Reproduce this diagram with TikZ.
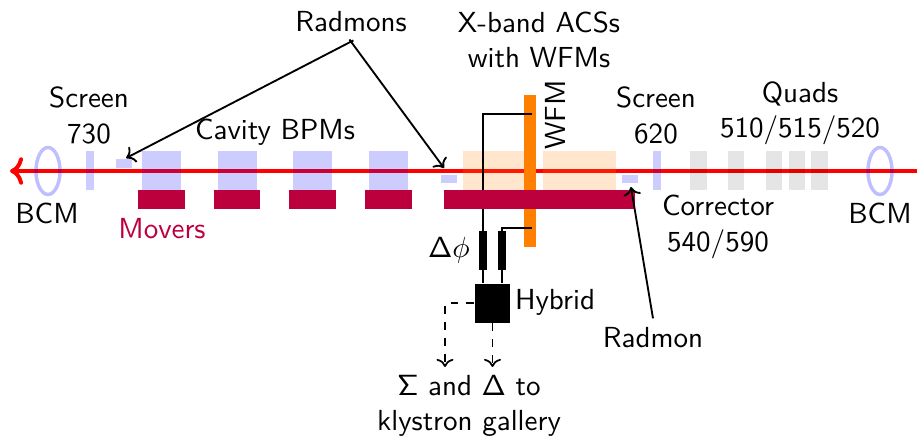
\documentclass[tikz,border=0pt]{standalone}
\usepackage{xcolor}
\usepackage{tikz}
\usetikzlibrary{arrows.meta,calc,positioning,shapes.geometric}
\definecolor{moverred}{HTML}{BB003D}
\newcommand{\px}{.0132cm}
\tikzset{
  txt/.style={font=\fontsize{10.9}{13.3}\selectfont\sffamily,align=center},
  part/.style={rectangle,draw=none,inner sep=0pt,outer sep=0pt,minimum width=#1*\px,minimum height=39*\px},
  bluepart/.style={part=#1,fill=blue,opacity=.2},
  graypart/.style={part=#1,fill=black,opacity=.1},
  acspart/.style={part=#1,fill=orange,opacity=.2},
  radmonbox/.style={part=16.3,minimum height=8.5*\px,fill=blue,opacity=.2},
  moverbox/.style={part=#1,minimum height=19.6*\px,fill=moverred},
  bcmring/.style={ellipse,draw=blue,opacity=.25,line width=1.3pt,inner sep=0pt,minimum width=24*\px,minimum height=47*\px},
  phasebox/.style={part=8.6,fill=black},
  link/.style={black,line width=.7pt},
}
\begin{document}
\begin{tikzpicture}[x=\px,y=-\px]
\useasboundingbox (0,0) rectangle (917,436);
\coordinate (beamin) at (917,171);
\coordinate (beamout) at (10,171);
\draw[->,red,line width=1.5pt] (beamin)--(beamout);
% beamline parts
\node[bcmring] (bcmL) at (48,171){};
\node[bcmring] (bcmR) at (880,171){};
\node[bluepart=8.4] (scrL) at (89.8,171){};
\node[bluepart=8.4] (scrR) at (656.8,171){};
\foreach \x/\n in {161.7/1,237.3/2,312.8/3,388.5/4}{\node[bluepart=38.8] (bpm\n) at (\x,171){};}
\foreach \x/\n in {698.3/1,736.2/2,774.2/3,796.8/4,819.5/5}{\node[graypart=16.4] (quad\n) at (\x,171){};}
\node[acspart=66] (acsA) at (496.3,171){};
\node[acspart=73] (acsB) at (579.5,171){};
\node[radmonbox] (radA) at (123.8,163.5){};
\node[radmonbox] (radB) at (448.8,178.8){};
\node[radmonbox] (radC) at (630.3,178.8){};
\node[rectangle,fill=orange,inner sep=0pt,minimum width=12*\px,minimum height=151.7*\px] (wfm) at (530.3,170.8){};
% pickup and hybrid
\node[phasebox] (phA) at (483,250.5){};
\node[phasebox] (phB) at (502,250.5){};
\node[rectangle,fill=black,inner sep=0pt,minimum width=35*\px,minimum height=38.7*\px] (hybrid) at (492.5,303.3){};
\coordinate (wfmA) at (532,114);
\coordinate (wfmB) at (532,227.7);
\coordinate (sumend) at (445,367);
\coordinate (deltaend) at (492.5,367);
\draw[link] (wfmA)-|(phA.north);
\draw[link] (wfmB)-|(phB.north);
\draw[link] (phA.south)--(phA.south|-hybrid.north);
\draw[link] (phB.south)--(phB.south|-hybrid.north);
\draw[->,link,line width=.65pt,dashed] (hybrid.west)-|(sumend);
\draw[->,link,line width=.65pt,dashed] (hybrid.south)--(deltaend);
% movers go over the cables
\foreach \x/\w/\n in {161.5/46.4/1,237.2/46.3/2,312.7/46.7/3,388.4/46.7/4,539.7/190.7/5}{\node[moverbox=\w] (mov\n) at (\x,199.5){};}
% labels
\node[txt] (radmons) at (351,22){Radmons};
\node[txt] (xband) at (539,40){X-band ACSs\\with WFMs};
\node[txt,rotate=90] (wfmtxt) at (555,115){WFM};
\node[txt] (scrLtxt) at (89,115.5){Screen\\730};
\node[txt] (bpmtxt) at (275,132){Cavity BPMs};
\node[txt] (bcmLtxt) at (47,213){BCM};
\node[txt,text=moverred] (movtxt) at (162,229){Movers};
\node[txt] (scrRtxt) at (656,115.5){Screen\\620};
\node[txt] (quadtxt) at (800,113.5){Quads\\510/515/520};
\node[txt] (cortxt) at (718,227){Corrector\\540/590};
\node[txt] (bcmRtxt) at (880,213){BCM};
\node[txt] (phtxt) at (449,250){$\mathsf{\Delta}\phi$};
\node[txt] (hybtxt) at (555,302){Hybrid};
\node[txt] (radCtxt) at (653,338){Radmon};
\node[txt] (gallery) at (469,406){$\mathsf{\Sigma}$ and $\mathsf{\Delta}$ to\\klystron gallery};
% radmon arrows
\draw[->,link,shorten >=1pt,shorten <=-1pt] (radmons.south)--(radA.north);
\draw[->,link,shorten >=3pt,shorten <=-1pt] (radmons.south)--(radB.north);
\draw[->,link,shorten >=1.5pt] (radCtxt.north)--(radC.south);
\end{tikzpicture}
\end{document}
